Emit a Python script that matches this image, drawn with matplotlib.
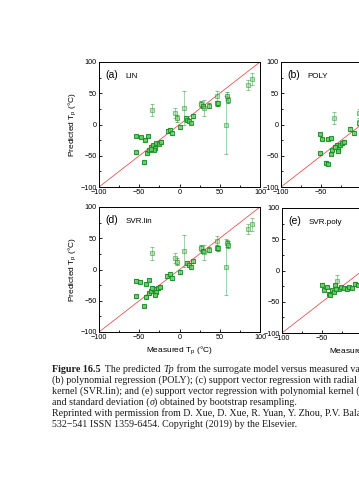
import numpy as np
import matplotlib
matplotlib.use("Agg")
import matplotlib.pyplot as plt
from matplotlib.ticker import MultipleLocator

plt.rcParams["font.family"] = ["Liberation Sans", "DejaVu Sans"]
plt.rcParams["mathtext.fontset"] = "custom"
plt.rcParams["mathtext.rm"] = "Liberation Sans"
plt.rcParams["mathtext.it"] = "Liberation Sans:italic"

# (a) LIN  -- measured, predicted, sigma
lin_x = [-33.7, -53.6, -48.2, -42.4, -39.0, -53.6, -44.5, -40.0, -38.3, -35.0, -32.9, -30.8,
         -28.8, -25.5, -22.6, -32.0, -36.0, -5.2, -2.7, 0.2, -14.3, -11.4, -8.9,
         5.6, 8.0, 8.9, 12.0, 13.9, 17.2, 26.3, 28.8, 30.4, 37.0, 46.0, 47.0, 48.0,
         58.6, 60.7, 57.3, 84.7, 89.6]
lin_y = [23.5, -18.2, -20.3, -24.6, -18.2, -44.4, -60.4, -45.0, -40.6, -35.3, -32.6, -38.0,
         -30.0, -31.5, -27.3, -40.6, -39.0, 18.0, 10.0, -4.3, -10.2, -8.6, -13.9,
         27.0, 10.0, 7.5, 6.4, 3.2, 13.9, 33.0, 28.9, 26.2, 30.0, 34.0, 45.0, 34.0,
         46.0, 39.6, -0.5, 63.6, 72.7]
lin_err = [10, 2, 2, 2, 2, 2, 2, 2, 2, 2, 2, 2,
           2, 2, 2, 2, 2, 8, 6, 3, 3, 3, 3,
           27, 4, 3, 3, 3, 3, 5, 3, 13, 4, 4, 8, 4,
           6, 5, 46, 8, 10]

# (b) POLY (left part only, the rest is off the page)
poly_x = [-33.7, -51.6, -48.7, -42.0, -37.9, -51.6, -44.7, -42.0, -38.3, -37.0, -33.0,
          -30.8, -28.8, -26.7, -24.6, -21.3, -28.8, -33.0, -13.9, -8.9, -2.7, -3.5]
poly_y = [10.2, -15.5, -23.5, -23.5, -22.0, -46.0, -61.0, -63.0, -47.0, -40.6, -35.3,
          -32.6, -39.6, -32.6, -30.0, -27.3, -43.0, -36.0, -7.0, -14.0, 18.0, 3.2]
poly_err = [10, 2, 2, 2, 2, 2, 2, 2, 2, 2, 2,
            2, 2, 2, 2, 2, 2, 2, 3, 3, 7, 4]

# (d) SVR.lin
svl_x = [-33.7, -53.6, -49.5, -41.0, -38.3, -53.6, -44.5, -41.0, -37.9, -35.0, -32.0,
         -29.6, -26.7, -23.8, -30.8, -33.7, -5.2, -2.7, 0.2, -15.0, -11.4, -8.9,
         5.6, 8.9, 12.0, 13.9, 17.2, 26.3, 28.8, 30.4, 37.0, 46.0, 47.0, 48.0,
         58.6, 60.7, 57.3, 84.7, 89.6]
svl_y = [26.0, -17.6, -19.2, -23.5, -16.8, -43.0, -58.4, -43.5, -38.0, -33.9, -31.7,
         -35.5, -30.0, -27.5, -40.8, -29.0, 18.0, 12.5, -4.5, -10.4, -7.7, -13.0,
         29.6, 9.9, 7.2, 4.5, 14.1, 34.0, 29.6, 27.5, 31.5, 35.2, 45.6, 33.9,
         42.0, 40.0, 4.5, 64.5, 72.3]
svl_err = [10, 2, 2, 2, 2, 2, 2, 2, 2, 2, 2,
           2, 2, 2, 2, 2, 8, 6, 3, 3, 3, 3,
           26, 3, 3, 3, 3, 5, 3, 12, 4, 4, 8, 4,
           6, 5, 45, 8, 10]

# (e) SVR.poly
svp_x = [-50.3, -48.2, -42.0, -40.0, -37.9, -34.6, -31.7, -29.6, -26.3, -23.4, -19.3,
         -17.2, -13.0, -35.8, -33.0, -44.0, -8.9, -5.6, -1.9]
svp_y = [-22.4, -31.5, -36.8, -39.5, -31.5, -23.5, -16.5, -28.8, -26.0, -27.7, -28.8,
         -26.0, -27.7, -34.0, -30.0, -26.0, -20.8, -23.5, -12.8]
svp_err = [2, 2, 2, 2, 2, 2, 10, 2, 2, 2, 2,
           2, 2, 2, 2, 2, 2, 2, 5]

panels = [
    ("(a)", "LIN", lin_x, lin_y, lin_err, [99, 62]),
    ("(b)", "POLY", poly_x, poly_y, poly_err, [281, 62]),
    ("(d)", "SVR.lin", svl_x, svl_y, svl_err, [99, 207]),
    ("(e)", "SVR.poly", svp_x, svp_y, svp_err, [282, 208]),
]

W, H = 359, 480
fig = plt.figure(figsize=(W / 100, H / 100), dpi=100)

axes = []
for tag, name, xs, ys, es, (px, py) in panels:
    ax = fig.add_axes([px / W, 1 - (py + 125) / H, 161 / W, 125 / H])
    axes.append(ax)
    ax.plot([-100, 100], [-100, 100], color="#e05555", lw=0.6, zorder=1)
    for x, y, e in zip(xs, ys, es):
        a = max(0.45, 1 - e / 14)
        ax.errorbar(x, y, yerr=e, fmt="s", ms=3.4, mew=0.8,
                    color="#128a1e", mfc=(0.45, 0.82, 0.45, 0.45),
                    ecolor="#128a1e", elinewidth=0.6, capsize=1.6, capthick=0.6,
                    alpha=a, zorder=2)
    ax.set_xlim(-100, 100)
    ax.set_ylim(-100, 100)
    ax.xaxis.set_major_locator(MultipleLocator(50))
    ax.yaxis.set_major_locator(MultipleLocator(50))
    ax.xaxis.set_minor_locator(MultipleLocator(25))
    ax.yaxis.set_minor_locator(MultipleLocator(25))
    ax.tick_params(which="both", direction="in", labelsize=5.2, width=0.6, pad=1.5)
    ax.tick_params(which="major", length=2.5)
    ax.tick_params(which="minor", length=1.5)
    for s in ax.spines.values():
        s.set_linewidth(0.7)
    ax.text(0.04, 0.935, tag, transform=ax.transAxes, fontsize=7.5, va="top", ha="left")
    ax.text(0.165, 0.915, name, transform=ax.transAxes, fontsize=5.8, va="top", ha="left")

for ax in (axes[0], axes[2]):
    ax.set_ylabel("Predicted T$_\\mathrm{p}$ (°C)", fontsize=6, labelpad=1.5)
for ax in (axes[2], axes[3]):
    ax.set_xlabel("Measured T$_\\mathrm{p}$ (°C)", fontsize=6, labelpad=2)

# caption (cut off at the right edge of the page)
cap_font = ["Liberation Serif", "DejaVu Serif"]
fs = 7.2
line_y = [369, 380, 391, 402, 413, 424]
captions = [
    [("Figure 16.5", "b"), ("  The predicted ", ""), ("Tp", "i"),
     (" from the surrogate model versus measured values for (a) linear regression (LIN);", "")],
    [("(b) polynomial regression (POLY); (c) support vector regression with radial basis kernel", "")],
    [("kernel (SVR.lin); and (e) support vector regression with polynomial kernel (SVR.poly)", "")],
    [("and standard deviation (", ""), ("\u03c3", "i"), (") obtained by bootstrap resampling.", "")],
    [("Reprinted with permission from D. Xue, D. Xue, R. Yuan, Y. Zhou, P.V. Balachandran", "")],
    [("532\u2212541 ISSN 1359-6454. Copyright (2019) by the Elsevier.", "")],
]

fig.canvas.draw()
renderer = fig.canvas.get_renderer()
for parts, yy in zip(captions, line_y):
    xpix = 52
    for txt, style in parts:
        kw = dict(fontsize=fs, family=cap_font, color="#1a1a1a", va="baseline", ha="left")
        if style == "b":
            kw["weight"] = "bold"
        if style == "i":
            kw["style"] = "italic"
        t = fig.text(xpix / W, 1 - (yy + 3) / H, txt, **kw)
        xpix += t.get_window_extent(renderer).width

fig.savefig("out.png", dpi=100)
